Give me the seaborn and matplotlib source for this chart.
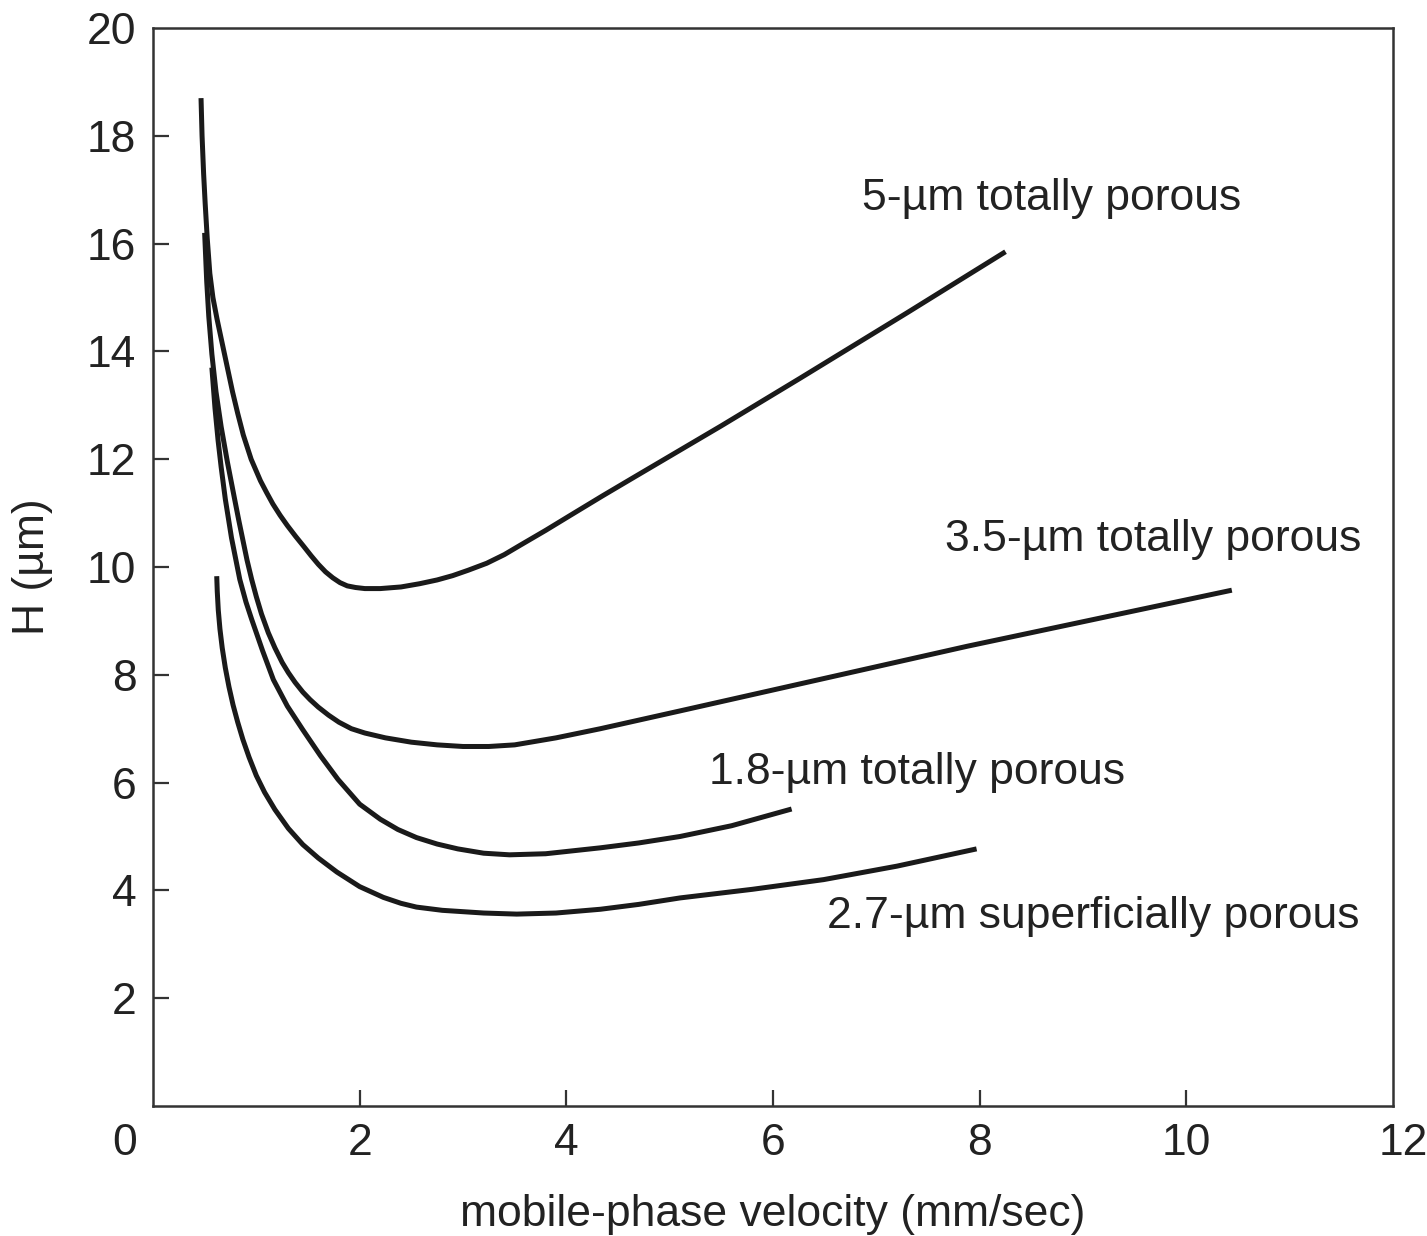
import matplotlib
matplotlib.use("Agg")
import matplotlib.pyplot as plt
from matplotlib.transforms import ScaledTranslation
import seaborn as sns
import pandas as pd

# Plate height H (µm) versus mobile-phase velocity (mm/sec) for four packings
x_5um = [0.465, 0.475, 0.49, 0.505, 0.525, 0.55, 0.58, 0.62, 0.67, 0.72, 0.77, 0.82,
         0.874, 0.95, 1.04, 1.10, 1.16, 1.23, 1.30, 1.38, 1.46, 1.53, 1.60, 1.67,
         1.74, 1.81, 1.88, 1.96, 2.05, 2.20, 2.40, 2.58, 2.75, 2.90, 3.05, 3.23,
         3.40, 3.55, 3.80, 4.04, 4.35, 4.65, 5.50, 6.26, 7.30, 8.25]
h_5um = [18.7, 18.0, 17.3, 16.75, 16.1, 15.45, 15.0, 14.6, 14.15, 13.7, 13.25, 12.85,
         12.45, 12.0, 11.6, 11.38, 11.17, 10.96, 10.77, 10.57, 10.38, 10.21, 10.05, 9.91,
         9.80, 9.71, 9.65, 9.62, 9.60, 9.60, 9.63, 9.69, 9.76, 9.84, 9.94, 10.07,
         10.23, 10.40, 10.68, 10.96, 11.32, 11.66, 12.62, 13.5, 14.72, 15.85]

x_35um = [0.50, 0.52, 0.54, 0.57, 0.61, 0.66, 0.72, 0.79, 0.83, 0.87, 0.91, 0.955,
          1.00, 1.05, 1.116, 1.18, 1.25, 1.31, 1.375, 1.45, 1.52, 1.60, 1.70, 1.80,
          1.92, 2.05, 2.25, 2.50, 2.75, 3.00, 3.25, 3.50, 3.90, 4.33, 5.10, 7.88, 10.44]
h_35um = [16.2, 15.3, 14.65, 13.95, 13.25, 12.6, 11.95, 11.26, 10.87, 10.5, 10.13, 9.77,
          9.45, 9.13, 8.78, 8.50, 8.23, 8.04, 7.86, 7.68, 7.54, 7.40, 7.25, 7.12,
          7.00, 6.92, 6.83, 6.75, 6.70, 6.67, 6.67, 6.70, 6.83, 7.00, 7.33, 8.53, 9.57]

x_18um = [0.57, 0.60, 0.63, 0.66, 0.70, 0.76, 0.84, 0.90, 0.955, 1.06, 1.165, 1.30,
          1.45, 1.62, 1.79, 2.00, 2.20, 2.37, 2.55, 2.75, 2.95, 3.20, 3.45, 3.80,
          4.33, 4.70, 5.10, 5.60, 6.18]
h_18um = [13.7, 12.95, 12.35, 11.85, 11.26, 10.54, 9.77, 9.35, 9.03, 8.45, 7.91, 7.42,
          6.98, 6.50, 6.06, 5.60, 5.32, 5.13, 4.98, 4.86, 4.77, 4.69, 4.66, 4.68,
          4.79, 4.88, 5.00, 5.20, 5.51]

x_27um = [0.617, 0.622, 0.632, 0.648, 0.67, 0.70, 0.735, 0.775, 0.82, 0.87, 0.93, 1.00,
          1.08, 1.18, 1.31, 1.45, 1.60, 1.78, 2.00, 2.23, 2.40, 2.55, 2.80, 3.20,
          3.52, 3.90, 4.33, 4.70, 5.10, 5.80, 6.49, 7.20, 7.97]
h_27um = [9.83, 9.55, 9.20, 8.85, 8.50, 8.13, 7.78, 7.44, 7.12, 6.80, 6.47, 6.13,
          5.82, 5.50, 5.15, 4.85, 4.60, 4.34, 4.07, 3.87, 3.76, 3.69, 3.63, 3.58,
          3.56, 3.58, 3.65, 3.74, 3.86, 4.02, 4.20, 4.45, 4.77]

series_names = ["5-µm totally porous", "3.5-µm totally porous",
                "1.8-µm totally porous", "2.7-µm superficially porous"]
label_x = [6.86, 7.66, 5.38, 6.52]
label_y = [16.83, 10.51, 6.19, 3.52]

x_ticks = [0, 2, 4, 6, 8, 10, 12]
y_ticks = [2, 4, 6, 8, 10, 12, 14, 16, 18, 20]

frames = []
for name, xs, hs in zip(series_names,
                        [x_5um, x_35um, x_18um, x_27um],
                        [h_5um, h_35um, h_18um, h_27um]):
    frames.append(pd.DataFrame({"velocity": xs, "H": hs, "packing": name}))
df = pd.concat(frames, ignore_index=True)

sns.set_theme(style="white")
plt.rcParams["font.family"] = ["Liberation Sans", "DejaVu Sans"]

fig = plt.figure(figsize=(14.27, 12.36), dpi=100)
ax = fig.add_axes([0.1072, 0.1052, 0.869, 0.8721])

sns.lineplot(data=df, x="velocity", y="H", hue="packing", units="packing",
             estimator=None, sort=False, legend=False,
             palette=["#1a1a1a"] * 4, linewidth=3.6, ax=ax,
             solid_capstyle="butt", solid_joinstyle="round")

ax.set_xlim(0, 12)
ax.set_ylim(0, 20)
ax.set_xticks(x_ticks)
ax.set_yticks(y_ticks)
ax.set_xticklabels([str(t) for t in x_ticks])
ax.set_yticklabels([str(t) for t in y_ticks])

fs = 32
ax.tick_params(axis="both", direction="in", length=11.5, width=1.6,
               color="#333333", labelsize=fs, labelcolor="#222222", pad=12,
               bottom=True, left=True, top=False, right=False)
for sp in ax.spines.values():
    sp.set_visible(True)
    sp.set_color("#333333")
    sp.set_linewidth(1.8)

# no tick marks where the ticks coincide with the frame corners
xmaj = ax.xaxis.get_major_ticks()
xmaj[0].tick1line.set_visible(False)
xmaj[-1].tick1line.set_visible(False)
ax.yaxis.get_major_ticks()[-1].tick1line.set_visible(False)

# corner labels sit slightly outside the frame
xt = ax.get_xticklabels()
xt[0].set_transform(xt[0].get_transform()
                    + ScaledTranslation(-0.28, 0, fig.dpi_scale_trans))
xt[-1].set_transform(xt[-1].get_transform()
                     + ScaledTranslation(0.10, 0, fig.dpi_scale_trans))

ax.set_xlabel("mobile-phase velocity (mm/sec)", fontsize=fs, color="#222222",
              labelpad=22)
ax.set_ylabel("H (µm)", fontsize=fs, color="#222222", labelpad=24)

for name, lx, ly in zip(series_names, label_x, label_y):
    ax.text(lx, ly, name, fontsize=fs, color="#222222", ha="left", va="center")

fig.savefig("out.png", dpi=100, facecolor="white")
